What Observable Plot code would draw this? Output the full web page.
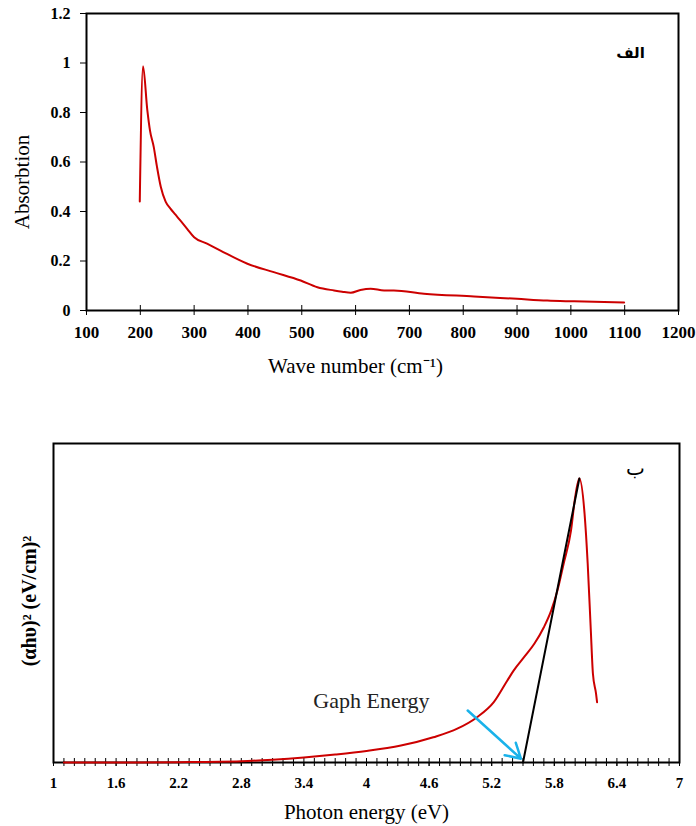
<!DOCTYPE html>
<html>
<head>
<meta charset="utf-8">
<script src="https://cdn.jsdelivr.net/npm/d3@7"></script>
<script src="https://cdn.jsdelivr.net/npm/@observablehq/plot@0.6"></script>
<style>
  html, body { margin: 0; padding: 0; background: white; }
  #chart { width: 696px; height: 826px; }
  #chart svg { display: block; }
</style>
</head>
<body>
<div id="chart"></div>
<script>
// ---- Panel الف: absorption spectrum ----
const waveNumber = [199, 205, 213, 218, 225, 231, 238, 247, 256, 265, 275, 287, 300, 324, 349, 399, 448, 498, 529, 560, 575, 591, 609, 628, 653, 671, 727, 820, 900, 956, 1006, 1099];
const absorption = [0.44, 0.987, 0.81, 0.727, 0.66, 0.58, 0.50, 0.44, 0.412, 0.388, 0.362, 0.33, 0.296, 0.27, 0.242, 0.189, 0.155, 0.121, 0.094, 0.081, 0.076, 0.072, 0.083, 0.088, 0.081, 0.081, 0.068, 0.057, 0.047, 0.040, 0.037, 0.032];
const topXTicks = [100, 200, 300, 400, 500, 600, 700, 800, 900, 1000, 1100, 1200];
const topYTicks = [0, 0.2, 0.4, 0.6, 0.8, 1, 1.2];
const topXLabel = "Wave number (cm⁻¹)";
const topYLabel = "Absorbtion";
const topPanelLabel = "الف";

// ---- Panel ب: Tauc plot ----
const photonEnergy = [1.1, 1.6, 2.2, 2.8, 3.1, 3.4, 3.7, 4.0, 4.33, 4.64, 4.87, 5.06, 5.22, 5.35, 5.41, 5.51, 5.61, 5.70, 5.77, 5.83, 5.89, 5.96, 6.00, 6.04, 6.09, 6.12, 6.15, 6.17, 6.20, 6.21];
const tauc = [0, 0, 0.001, 0.004, 0.009, 0.016, 0.025, 0.036, 0.053, 0.079, 0.106, 0.142, 0.189, 0.257, 0.288, 0.33, 0.373, 0.424, 0.476, 0.539, 0.624, 0.727, 0.832, 0.89, 0.78, 0.624, 0.414, 0.279, 0.216, 0.189];
const tangentX = [5.5, 6.04];
const tangentY = [0, 0.89];
const arrowFrom = {x: 4.97, y: 0.163};
const arrowTo = {x: 5.48, y: 0.012};
const gapLabel = {text: "Gaph Energy", x: 3.49, y: 0.194};
const bottomTickLabels = [1, 1.6, 2.2, 2.8, 3.4, 4, 4.6, 5.2, 5.8, 6.4, 7];
const bottomMinorTicks = d3.range(10, 71).map(d => d / 10);
const bottomXLabel = "Photon energy (eV)";
const bottomYLabel = "(αhυ)² (eV/cm)²";
const bottomPanelLabel = "ب";

const serif = "Liberation Serif";
const arabic = "DejaVu Sans";
const red = "#cc0000";

const topData = waveNumber.map((x, i) => ({x, y: absorption[i]}));
const bottomData = photonEnergy.map((x, i) => ({x, y: tauc[i]}));
const tangent = tangentX.map((x, i) => ({x, y: tangentY[i]}));

const topPlot = Plot.plot({
  width: 696, height: 400,
  marginTop: 13, marginBottom: 90, marginLeft: 86, marginRight: 18,
  x: {domain: [100, 1200]},
  y: {domain: [0, 1.2]},
  style: {fontFamily: serif, background: "white", color: "black", overflow: "visible"},
  marks: [
    Plot.axisY(topYTicks, {tickSize: 6, tickPadding: 10, fontSize: 16, fontWeight: "bold", fontFamily: serif, label: null, tickFormat: d => String(d), stroke: "black"}),
    Plot.axisX(topXTicks, {tickSize: 5, tickPadding: 10, fontSize: 17, fontWeight: "bold", fontFamily: serif, label: null, tickFormat: d => String(d), stroke: "black"}),
    Plot.tickX(topXTicks, {x: d => d, insetTop: 292, stroke: "black", strokeWidth: 1}),
    Plot.frame({stroke: "black", strokeWidth: 2}),
    Plot.line(topData, {x: "x", y: "y", stroke: red, strokeWidth: 2, curve: "monotone-x"}),
    Plot.text([topXLabel], {frameAnchor: "bottom", dy: 56, dx: -27, fontSize: 21, fontFamily: serif, textAnchor: "middle", lineAnchor: "middle"}),
    Plot.text([topYLabel], {frameAnchor: "left", rotate: -90, dx: -64, dy: 20, fontSize: 21, fontFamily: serif, textAnchor: "middle", lineAnchor: "middle"}),
    Plot.text([topPanelLabel], {frameAnchor: "top-right", dx: -48, dy: 40, fontSize: 15, fontWeight: "bold", fontFamily: arabic, textAnchor: "middle", lineAnchor: "middle"})
  ]
});

const bottomPlot = Plot.plot({
  width: 696, height: 426,
  marginTop: 43, marginBottom: 64, marginLeft: 53, marginRight: 17,
  x: {domain: [1, 7]},
  y: {domain: [0, 1], axis: null},
  style: {fontFamily: serif, background: "white", color: "black", overflow: "visible"},
  marks: [
    Plot.axisX(bottomMinorTicks, {tickSize: 4, text: null, label: null, stroke: "black"}),
    Plot.tickX(bottomMinorTicks, {x: d => d, insetTop: 315, stroke: "black", strokeWidth: 1}),
    Plot.axisX(bottomTickLabels, {tickSize: 4, tickPadding: 11, fontSize: 15, fontWeight: "bold", fontFamily: serif, label: null, tickFormat: d => String(d), stroke: "black"}),
    Plot.frame({stroke: "black", strokeWidth: 2}),
    Plot.line(bottomData, {x: "x", y: "y", stroke: red, strokeWidth: 2, curve: "monotone-x"}),
    Plot.line(tangent, {x: "x", y: "y", stroke: "black", strokeWidth: 2}),
    Plot.arrow([{x1: arrowFrom.x, y1: arrowFrom.y, x2: arrowTo.x, y2: arrowTo.y}], {x1: "x1", y1: "y1", x2: "x2", y2: "y2", stroke: "#1ab2ea", strokeWidth: 2.5, headLength: 10}),
    Plot.text([gapLabel], {x: "x", y: "y", text: "text", fontSize: 22, fontFamily: serif, textAnchor: "start", lineAnchor: "middle", fill: "#222"}),
    Plot.text([bottomXLabel], {frameAnchor: "bottom", dy: 50, fontSize: 21, fontFamily: serif, textAnchor: "middle", lineAnchor: "middle"}),
    Plot.text([bottomYLabel], {frameAnchor: "left", rotate: -90, dx: -24, dy: -2, fontSize: 20, fontWeight: "bold", fontFamily: serif, textAnchor: "middle", lineAnchor: "middle"}),
    Plot.text([bottomPanelLabel], {frameAnchor: "top-right", dx: -44, dy: 25, fontSize: 20, fontFamily: arabic, textAnchor: "middle", lineAnchor: "middle"})
  ]
});

const chart = document.getElementById("chart");
chart.appendChild(topPlot);
chart.appendChild(bottomPlot);
</script>
</body>
</html>
